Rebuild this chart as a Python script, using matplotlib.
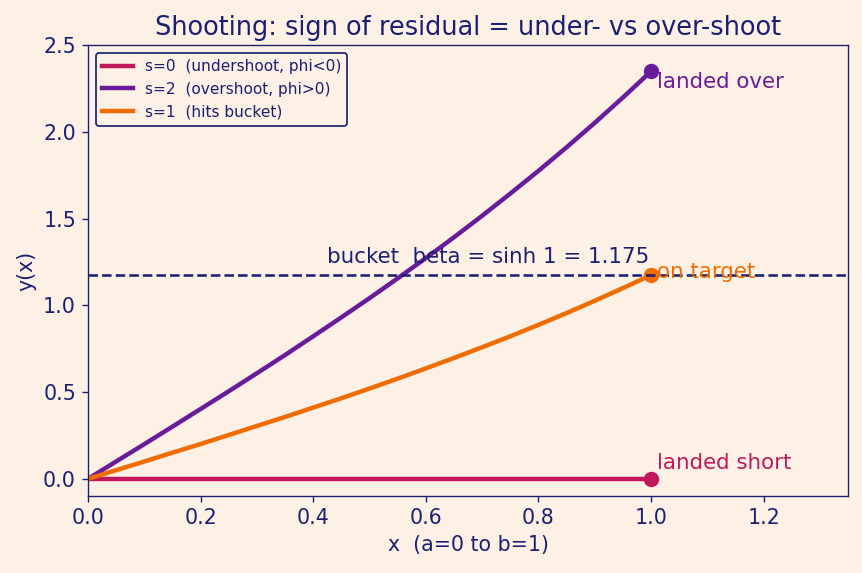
import matplotlib.pyplot as plt

# valores
x = [0.0, 0.05, 0.1, 0.15, 0.2, 0.25, 0.3, 0.35, 0.4, 0.45, 0.5,
     0.55, 0.6, 0.65, 0.7, 0.75, 0.8, 0.85, 0.9, 0.95, 1.0]
y_s0 = [0] * 21
y_s2 = [0.0, 0.100, 0.200, 0.301, 0.403, 0.505, 0.609, 0.714, 0.822, 0.931, 1.042,
        1.156, 1.273, 1.393, 1.517, 1.645, 1.776, 1.912, 2.053, 2.199, 2.350]
y_s1 = [0.0, 0.050, 0.100, 0.151, 0.201, 0.253, 0.305, 0.357, 0.411, 0.465, 0.521,
        0.578, 0.637, 0.697, 0.759, 0.822, 0.888, 0.956, 1.027, 1.100, 1.175]
beta = 1.175

fondo = '#fdf1e6'
azul = '#1a1f71'
c0 = '#c2185b'
c2 = '#6a1b9a'
c1 = '#ef6c00'

plt.rcParams['text.color'] = azul
plt.rcParams['axes.labelcolor'] = azul
plt.rcParams['xtick.color'] = azul
plt.rcParams['ytick.color'] = azul

fig, ax = plt.subplots(figsize=(7.0, 4.653), dpi=123.15)
fig.patch.set_facecolor(fondo)
ax.set_facecolor(fondo)

ax.plot(x, y_s0, color=c0, lw=2.6, label='s=0  (undershoot, phi<0)')
ax.plot(x, y_s2, color=c2, lw=2.6, label='s=2  (overshoot, phi>0)')
ax.plot(x, y_s1, color=c1, lw=2.6, label='s=1  (hits bucket)')

ax.plot(x[-1], y_s0[-1], 'o', color=c0, ms=8)
ax.plot(x[-1], y_s2[-1], 'o', color=c2, ms=8)
ax.plot(x[-1], y_s1[-1], 'o', color=c1, ms=8)

ax.axhline(beta, color=azul, ls='--', lw=1.5)
ax.text(0.424, 1.22, 'bucket  beta = sinh 1 = 1.175', fontsize=12.5, va='bottom')

ax.text(1.01, 2.29, 'landed over', color=c2, fontsize=12.5, va='center')
ax.text(1.01, 1.19, 'on target', color=c1, fontsize=12.5, va='center')
ax.text(1.01, 0.09, 'landed short', color=c0, fontsize=12.5, va='center')

ax.set_xlim(0, 1.35)
ax.set_ylim(-0.1, 2.5)
ax.set_title('Shooting: sign of residual = under- vs over-shoot', fontsize=15, color=azul)
ax.set_xlabel('x  (a=0 to b=1)', fontsize=12)
ax.set_ylabel('y(x)', fontsize=12)
ax.tick_params(labelsize=12)
for s in ax.spines.values():
    s.set_color(azul)

leg = ax.legend(loc='upper left', fontsize=9, facecolor=fondo, edgecolor=azul, framealpha=1)
for t in leg.get_texts():
    t.set_color(azul)

plt.subplots_adjust(left=0.102, right=0.984, top=0.921, bottom=0.134)
plt.savefig('out.png', facecolor=fondo)
